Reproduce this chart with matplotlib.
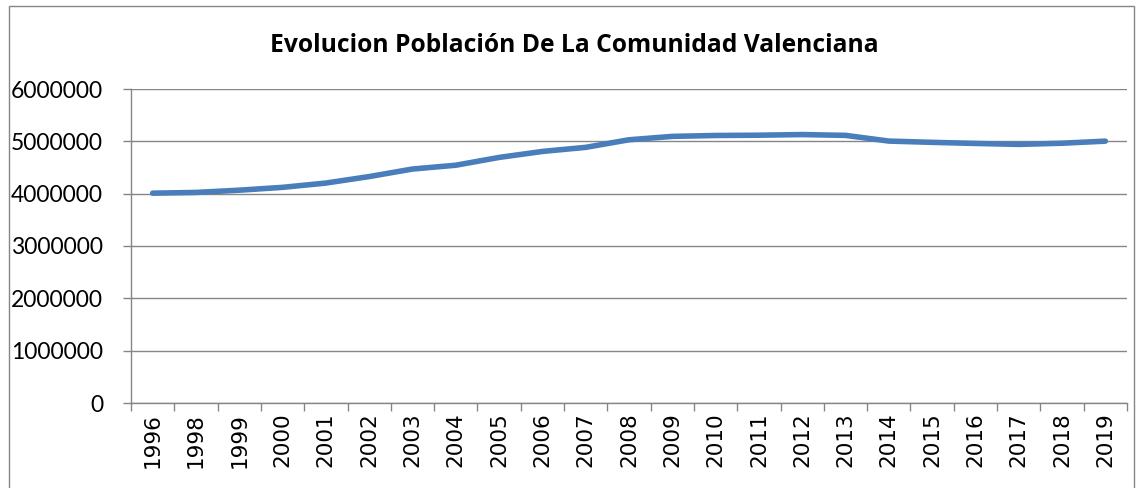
import matplotlib
matplotlib.use("Agg")
import matplotlib.pyplot as plt
from matplotlib.patches import Rectangle

years = ["1996", "1998", "1999", "2000", "2001", "2002", "2003", "2004", "2005",
         "2006", "2007", "2008", "2009", "2010", "2011", "2012", "2013", "2014",
         "2015", "2016", "2017", "2018", "2019"]
population = [4009329, 4023441, 4066474, 4120729, 4202608, 4326708, 4470885,
              4543304, 4692449, 4806908, 4885029, 5029601, 5094675, 5111706,
              5117190, 5129266, 5113815, 5004844, 4980689, 4959968, 4941509,
              4963703, 5003769]
yticks = [0, 1000000, 2000000, 3000000, 4000000, 5000000, 6000000]
title = "Evolucion Población De La Comunidad Valenciana"

W, H = 1136, 488
fig = plt.figure(figsize=(W / 100, H / 100), dpi=100)
fig.patch.set_facecolor("white")

# outer chart border
fig.add_artist(Rectangle((9 / W, -0.05), (1134 - 9) / W, 1.05 - 6 / H,
                         transform=fig.transFigure, fill=False,
                         edgecolor="#868686", linewidth=1.0))

ax = fig.add_axes([131 / W, 1 - 403 / H, (1127 - 131) / W, (403 - 89) / H])
grid_c = "#868686"
x = list(range(len(years)))
ax.plot(x, population, color="#4A7EBB", linewidth=4.0, solid_capstyle="round",
        solid_joinstyle="round", zorder=3)

ax.set_xlim(-0.5, len(years) - 0.5)
ax.set_ylim(0, 6000000)
ax.set_yticks(yticks)
ax.set_yticklabels([str(v) for v in yticks], fontfamily="Lato", fontsize=16.5)
ax.yaxis.grid(True, color=grid_c, linewidth=1.0)
ax.set_axisbelow(True)

ax.set_xticks(x)
ax.set_xticklabels(years, rotation=90, fontfamily="DejaVu Sans", fontsize=15.5)
ax.set_xticks([i - 0.5 for i in range(len(years) + 1)], minor=True)
ax.tick_params(axis="x", which="major", length=0, pad=7)
ax.tick_params(axis="x", which="minor", length=6, width=1.0, color=grid_c)
ax.tick_params(axis="y", length=6, width=1.0, color=grid_c, pad=14)

for s in ["top", "right"]:
    ax.spines[s].set_visible(False)
for s in ["left", "bottom"]:
    ax.spines[s].set_color(grid_c)
    ax.spines[s].set_linewidth(1.0)

fig.text(574 / W, 1 - 46 / H, title, ha="center", va="center",
         fontfamily="Open Sans", fontweight="bold", fontsize=17.7)

fig.savefig("out.png", dpi=100)
